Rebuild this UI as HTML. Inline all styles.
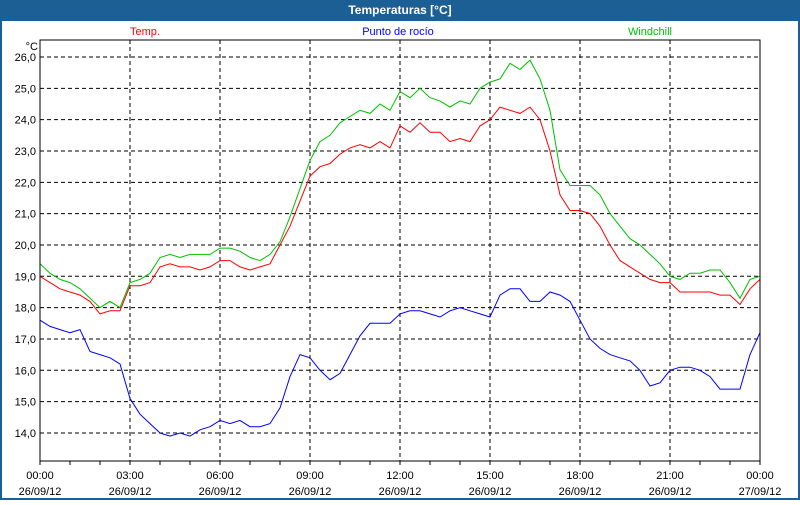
<!DOCTYPE html>
<html><head><meta charset="utf-8"><style>
body{margin:0;width:800px;height:500px;overflow:hidden;background:#fff;font-family:"Liberation Sans",sans-serif}
</style></head><body>
<svg width="800" height="500" xmlns="http://www.w3.org/2000/svg" font-family="Liberation Sans, sans-serif">
<rect x="0" y="0" width="800" height="500" fill="#1c5f94"/>
<rect x="2" y="21" width="796" height="477" fill="#fff"/>
<text x="400" y="14" fill="#fff" font-size="12" font-weight="bold" text-anchor="middle">Temperaturas [°C]</text>
<text x="145" y="35" fill="#ff0000" font-size="11" text-anchor="middle">Temp.</text>
<text x="398" y="35" fill="#0000ff" font-size="11" text-anchor="middle">Punto de rocío</text>
<text x="650" y="35" fill="#00c000" font-size="11" text-anchor="middle">Windchill</text>
<text x="38" y="50" font-size="11" text-anchor="end">°C</text>
<g id="grid"></g>
<g id="series"></g>
<rect x="40" y="40" width="720" height="421" fill="none" stroke="#000" stroke-width="1"/>
<g id="axes"></g>
</svg>
<script>
const temp=[19.0,18.8,18.6,18.5,18.4,18.2,17.8,17.9,17.9,18.7,18.7,18.8,19.3,19.4,19.3,19.3,19.2,19.3,19.5,19.5,19.3,19.2,19.3,19.4,20.0,20.6,21.4,22.2,22.5,22.6,22.9,23.1,23.2,23.1,23.3,23.1,23.8,23.6,23.9,23.6,23.6,23.3,23.4,23.3,23.8,24.0,24.4,24.3,24.2,24.4,24.0,23.0,21.6,21.1,21.1,21.0,20.6,20.0,19.5,19.3,19.1,18.9,18.8,18.8,18.5,18.5,18.5,18.5,18.4,18.4,18.1,18.6,18.9];
const dew=[17.6,17.4,17.3,17.2,17.3,16.6,16.5,16.4,16.2,15.1,14.6,14.3,14.0,13.9,14.0,13.9,14.1,14.2,14.4,14.3,14.4,14.2,14.2,14.3,14.8,15.8,16.5,16.4,16.0,15.7,15.9,16.5,17.1,17.5,17.5,17.5,17.8,17.9,17.9,17.8,17.7,17.9,18.0,17.9,17.8,17.7,18.4,18.6,18.6,18.2,18.2,18.5,18.4,18.2,17.6,17.0,16.7,16.5,16.4,16.3,16.0,15.5,15.6,16.0,16.1,16.1,16.0,15.8,15.4,15.4,15.4,16.5,17.2];
const windchill=[19.4,19.1,18.9,18.8,18.6,18.3,18.0,18.2,18.0,18.8,18.9,19.1,19.6,19.7,19.6,19.7,19.7,19.7,19.9,19.9,19.8,19.6,19.5,19.7,20.1,20.9,21.8,22.7,23.3,23.5,23.9,24.1,24.3,24.2,24.5,24.3,24.9,24.7,25.0,24.7,24.6,24.4,24.6,24.5,25.0,25.2,25.3,25.8,25.6,25.9,25.3,24.3,22.4,21.9,21.9,21.9,21.6,21.0,20.6,20.2,20.0,19.7,19.4,19.0,18.9,19.1,19.1,19.2,19.2,18.8,18.3,18.9,19.0];
const yTicks=[14,15,16,17,18,19,20,21,22,23,24,25,26];
const xTimes=["00:00","03:00","06:00","09:00","12:00","15:00","18:00","21:00","00:00"];
const xDates=["26/09/12","26/09/12","26/09/12","26/09/12","26/09/12","26/09/12","26/09/12","26/09/12","27/09/12"];
const NS="http://www.w3.org/2000/svg";
const x=h=>40+h*30; // hours -> px
const y=v=>57+(26-v)*31.33;
function mk(t,a,p){const e=document.createElementNS(NS,t);for(const k in a)e.setAttribute(k,a[k]);p.appendChild(e);return e;}
const grid=document.getElementById('grid'),axes=document.getElementById('axes'),ser=document.getElementById('series');
yTicks.forEach(v=>{
  const l=mk('line',{x1:40,x2:760,y1:y(v),y2:y(v),stroke:'#000','stroke-dasharray':'4,3'},grid);
  
  
  const t=mk('text',{x:36,y:y(v)+4,'font-size':11,'text-anchor':'end'},axes);
  t.textContent=v.toFixed(1).replace('.',',');
  
  
});
xTimes.forEach((s,i)=>{
  const px=x(i*3);
  if(i>0&&i<xTimes.length-1){
    const g=mk('line',{x1:px,x2:px,y1:40,y2:461,stroke:'#000','stroke-dasharray':'4,3'},grid);
    
    
  }
  const t=mk('text',{x:px,y:479,'font-size':11,'text-anchor':'middle'},axes);
  t.textContent=s;
  
  
  const d=mk('text',{x:px,y:495,'font-size':11,'text-anchor':'middle'},axes);
  d.textContent=xDates[i];
  
  
});
for(let h=0;h<=24;h++){
  const k=mk('line',{x1:x(h),x2:x(h),y1:461,y2:465,stroke:'#000'},axes);
  
  
}
function line(arr,col,name){
  const pts=arr.map((v,i)=>x(i/3).toFixed(1)+','+y(v).toFixed(1)).join(' ');
  const p=mk('polyline',{points:pts,fill:'none',stroke:col,'stroke-width':1},ser);
  
  
}
line(windchill,'#00c000','windchill-line');
line(temp,'#ff0000','temp-line');
line(dew,'#0000ff','dew-point-line');
</script>
</body></html>
